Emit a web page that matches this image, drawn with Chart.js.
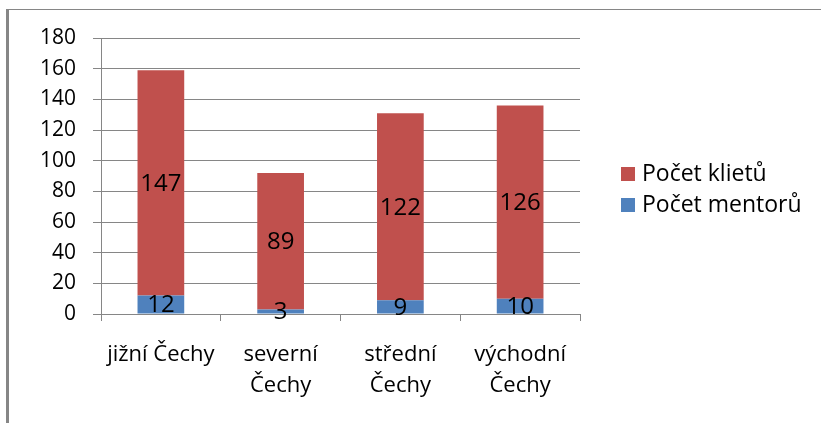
<!DOCTYPE html>
<html>
<head>
<meta charset="utf-8">
<script src="https://cdn.jsdelivr.net/npm/chart.js@4.4.0/dist/chart.umd.min.js"></script>
<style>
  html, body { margin: 0; padding: 0; background: #fff; }
  #wrap { width: 821px; height: 423px; position: relative; }
</style>
</head>
<body>
<div id="wrap"><canvas id="myChart" width="821" height="423"></canvas></div>
<script>
// data
var regions = ['jižní Čechy', ['severní', 'Čechy'], ['střední', 'Čechy'], ['východní', 'Čechy']];
var mentors = [12, 3, 9, 10];
var clients = [147, 89, 122, 126];
var yTicks = [0, 20, 40, 60, 80, 100, 120, 140, 160, 180];

var FONT = "'Open Sans', sans-serif";
var GRID = '#868686';

// outer frame (left thick line + top line)
var framePlugin = {
  id: 'frame',
  beforeDraw: function (chart) {
    var ctx = chart.ctx;
    ctx.save();
    ctx.fillStyle = '#fff';
    ctx.fillRect(0, 0, chart.width, chart.height);
    ctx.fillStyle = GRID;
    ctx.fillRect(6, 9, 3, chart.height - 9);
    ctx.fillRect(6, 9, chart.width - 6, 1);
    ctx.restore();
  }
};

// value labels in the middle of every segment
var valuePlugin = {
  id: 'values',
  afterDatasetsDraw: function (chart) {
    var ctx = chart.ctx;
    ctx.save();
    ctx.font = '24px ' + FONT;
    ctx.fillStyle = '#000';
    ctx.textAlign = 'center';
    ctx.textBaseline = 'middle';
    chart.data.datasets.forEach(function (ds, i) {
      chart.getDatasetMeta(i).data.forEach(function (bar, j) {
        ctx.fillText(String(ds.data[j]), bar.x, (bar.y + bar.base) / 2 + 1);
      });
    });
    ctx.restore();
  }
};

// legend on the right, red first
var legendPlugin = {
  id: 'sideLegend',
  afterDraw: function (chart) {
    var ctx = chart.ctx;
    var order = [1, 0];
    ctx.save();
    ctx.font = '23px ' + FONT;
    ctx.textBaseline = 'middle';
    order.forEach(function (idx, k) {
      var ds = chart.data.datasets[idx];
      var y = 174 + k * 31;
      ctx.fillStyle = ds.backgroundColor;
      ctx.fillRect(621, y - 7, 14, 14);
      ctx.fillStyle = '#000';
      ctx.fillText(ds.label, 642, y);
    });
    ctx.restore();
  }
};

const ctx = document.getElementById('myChart');
const myChart = new Chart(ctx, {
  type: 'bar',
  data: {
    labels: regions,
    datasets: [
      { label: 'Počet mentorů', data: mentors, backgroundColor: '#4F81BD', barPercentage: 0.39, categoryPercentage: 1 },
      { label: 'Počet klietů', data: clients, backgroundColor: '#C0504D', barPercentage: 0.39, categoryPercentage: 1 }
    ]
  },
  options: {
    responsive: false,
    animation: false,
    layout: { padding: { top: 38, right: 241, left: 0, bottom: 0 } },
    plugins: {
      legend: { display: false },
      tooltip: { enabled: false }
    },
    scales: {
      x: {
        stacked: true,
        grid: { drawOnChartArea: false, color: GRID, tickLength: 7 },
        border: { color: GRID },
        ticks: { color: '#000', font: { family: FONT, size: 22, lineHeight: 1.42 }, padding: 18, maxRotation: 0, autoSkip: false },
        afterFit: function (s) { s.height = 109; }
      },
      y: {
        stacked: true,
        min: 0,
        max: 180,
        afterBuildTicks: function (s) { s.ticks = yTicks.map(function (v) { return { value: v }; }); },
        grid: { color: GRID, tickLength: 8 },
        border: { color: GRID },
        ticks: { color: '#000', font: { family: FONT, size: 21 }, padding: 17 },
        afterFit: function (s) { s.width = 101; }
      }
    }
  },
  plugins: [framePlugin, valuePlugin, legendPlugin]
});
</script>
</body>
</html>
